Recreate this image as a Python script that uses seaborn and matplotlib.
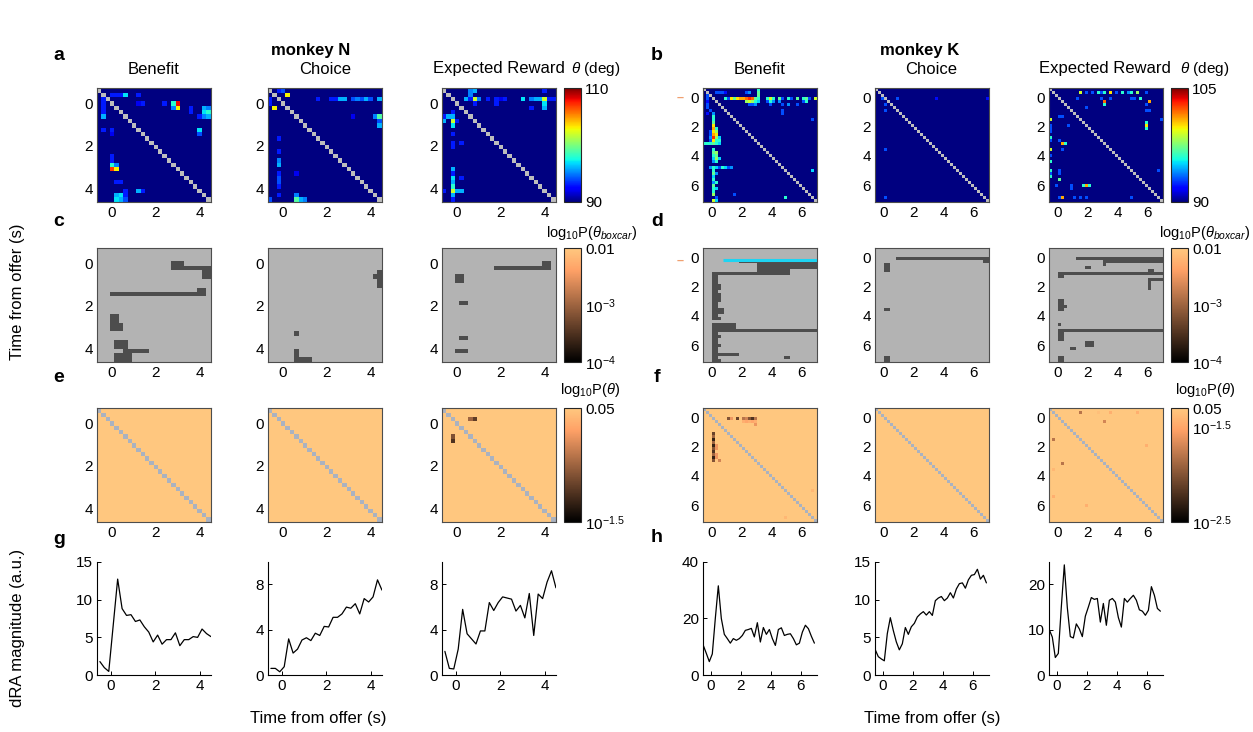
import numpy as np
import matplotlib
matplotlib.use("Agg")
import matplotlib.pyplot as plt
import seaborn as sns
from matplotlib.colors import ListedColormap, Normalize
from matplotlib.cm import ScalarMappable

sns.set_theme(style="white")
plt.rcParams['font.family'] = ['Liberation Sans', 'DejaVu Sans']
plt.rcParams['mathtext.fontset'] = 'custom'
plt.rcParams['mathtext.rm'] = 'Liberation Sans'
plt.rcParams['mathtext.it'] = 'Liberation Sans:italic'
for k in ['text.color', 'axes.labelcolor', 'xtick.color', 'ytick.color']:
    plt.rcParams[k] = 'black'

# ---------------- data ----------------
N_TIME = [-0.5, -0.3, -0.1, 0.1, 0.3, 0.5, 0.7, 0.9, 1.1, 1.3, 1.5, 1.7, 1.9,
          2.1, 2.3, 2.5, 2.7, 2.9, 3.1, 3.3, 3.5, 3.7, 3.9, 4.1, 4.3, 4.5]
K_TIME = [-0.5, -0.3, -0.1, 0.1, 0.3, 0.5, 0.7, 0.9, 1.1, 1.3, 1.5, 1.7, 1.9,
          2.1, 2.3, 2.5, 2.7, 2.9, 3.1, 3.3, 3.5, 3.7, 3.9, 4.1, 4.3, 4.5,
          4.7, 4.9, 5.1, 5.3, 5.5, 5.7, 5.9, 6.1, 6.3, 6.5, 6.7, 6.9]
VARIABLES = ['Benefit', 'Choice', 'Expected Reward']

# dRA magnitude (a.u.)
N_BENEFIT_DRA = [1.8, 1.0, 0.5, 6.6, 12.7, 8.8, 7.9, 8.0, 7.1, 7.3, 6.4, 5.7, 4.4,
                 5.3, 4.1, 4.7, 4.7, 5.6, 3.9, 4.7, 4.7, 5.1, 5.0, 6.1, 5.5, 5.1]
N_CHOICE_DRA = [0.6, 0.6, 0.3, 0.75, 3.2, 1.95, 2.3, 3.1, 3.3, 3.05, 3.7, 3.5, 4.3,
                4.25, 5.1, 5.1, 5.4, 6.0, 5.9, 6.3, 5.4, 6.75, 6.45, 6.9, 8.4, 7.5]
N_ER_DRA = [2.1, 0.6, 0.55, 2.3, 5.8, 3.65, 3.2, 2.75, 3.9, 3.9, 6.4, 5.7, 6.4,
            6.9, 6.8, 6.7, 5.65, 6.15, 5.05, 7.2, 3.5, 7.15, 6.75, 8.2, 9.2, 7.7]
K_BENEFIT_DRA = [10.5, 7.7, 4.8, 7.5, 20, 31.5, 20, 14.4, 12.9, 11.3, 12.9, 12.3, 12.9,
                 14, 15.8, 16.1, 16.5, 13.5, 18.5, 11.7, 16.8, 14.4, 16.1, 12.9, 10.5,
                 16.1, 16.7, 14, 14.4, 14.6, 12.9, 10.7, 11.3, 15.2, 17.6, 16.4, 13.7, 11.3]
K_CHOICE_DRA = [3.35, 2.45, 2.15, 1.9, 5.5, 7.6, 5.9, 4.4, 3.35, 4.15, 6.3, 5.4, 6.4,
                6.85, 7.7, 8.1, 8.4, 7.95, 8.4, 7.9, 9.85, 10.2, 10.4, 9.85, 10.2,
                10.9, 10.2, 11.4, 12.1, 12.2, 11.5, 12.6, 13.2, 13.3, 14.0, 12.7, 13.2, 12.2]
K_ER_DRA = [10.0, 8.4, 3.9, 4.8, 15, 24.3, 14.9, 8.5, 8.2, 11.3, 10.2, 8.5, 13,
            15, 17.1, 16.7, 16.9, 11.7, 15.8, 11.0, 16.5, 16.9, 16.1, 12.7, 10.6,
            16.9, 16.1, 16.9, 17.6, 16.5, 14.4, 14.1, 13.2, 14.3, 19.5, 17.6, 14.7, 14.1]

# angle maps: (row bin, column bin, theta in deg); all other bins are at 90 deg
N_BENEFIT_THETA = [
    (1, 3, 93), (1, 4, 93), (1, 5, 93), (1, 6, 97), (1, 9, 93), (3, 9, 92), (3, 10, 93),
    (3, 15, 93), (3, 17, 98), (3, 18, 108), (4, 17, 95), (4, 18, 103), (4, 21, 93),
    (5, 21, 93), (4, 24, 96), (5, 24, 97), (5, 25, 98), (4, 25, 95), (6, 23, 93),
    (6, 24, 95), (6, 25, 96), (2, 1, 93), (3, 1, 93), (4, 1, 93), (5, 1, 93), (6, 1, 96),
    (9, 1, 93), (9, 3, 93), (10, 3, 92), (9, 23, 97), (10, 23, 94), (15, 3, 93),
    (16, 3, 93), (17, 3, 98), (17, 4, 95), (18, 3, 107), (18, 4, 103), (21, 4, 93),
    (21, 5, 93), (23, 6, 93), (23, 9, 96), (23, 10, 93), (24, 4, 96), (24, 5, 97),
    (24, 6, 93), (25, 4, 97), (25, 5, 96), (25, 6, 94)]
N_CHOICE_THETA = [
    (0, 2, 93), (0, 3, 94), (1, 4, 103), (2, 0, 93), (3, 0, 93), (4, 1, 103), (2, 11, 93),
    (2, 14, 93), (2, 15, 93), (2, 16, 96), (2, 17, 96), (2, 19, 94), (2, 20, 95),
    (2, 21, 94), (2, 22, 96), (2, 23, 94), (2, 25, 96), (6, 19, 92), (6, 24, 95),
    (6, 25, 99), (7, 25, 94), (8, 25, 96), (11, 2, 93), (14, 2, 93), (16, 2, 95),
    (17, 2, 96), (19, 2, 93), (20, 2, 94), (21, 2, 94), (22, 2, 93), (24, 2, 93),
    (25, 0, 94), (19, 6, 92), (24, 6, 95), (25, 6, 99), (25, 7, 96), (25, 8, 95)]
N_ER_THETA = [
    (0, 6, 95), (0, 7, 96), (1, 6, 95), (2, 5, 96), (2, 6, 93), (2, 7, 102), (2, 8, 95),
    (2, 10, 93), (2, 12, 93), (2, 13, 92), (2, 14, 93), (2, 18, 97), (2, 20, 95),
    (2, 21, 96), (2, 22, 96), (2, 23, 102), (2, 24, 93), (2, 25, 93), (0, 23, 93),
    (3, 23, 97), (4, 23, 96), (3, 7, 93), (3, 12, 93), (4, 20, 93), (6, 0, 93), (6, 1, 96),
    (7, 0, 96), (5, 2, 93), (6, 2, 96), (7, 2, 102), (8, 2, 97), (10, 2, 93), (12, 2, 93),
    (13, 2, 93), (12, 4, 93), (7, 3, 93), (18, 2, 96), (19, 2, 93), (20, 2, 97),
    (21, 2, 96), (20, 4, 93), (22, 2, 98), (23, 2, 102), (23, 3, 96), (23, 4, 96),
    (23, 0, 93), (24, 2, 96), (25, 2, 93)]
K_BENEFIT_THETA = [
    (1, 4, 93), (1, 5, 93), (1, 6, 93), (1, 7, 92), (1, 14, 93), (1, 15, 94),
    (0, 18, 96), (1, 18, 97), (2, 18, 97), (3, 18, 96), (4, 18, 95),
    (3, 7, 96), (3, 8, 93), (3, 9, 100), (3, 10, 97), (3, 11, 100), (3, 12, 101),
    (3, 13, 101), (3, 14, 102), (3, 15, 103), (3, 16, 102), (3, 17, 97),
    (4, 14, 98), (4, 15, 99), (4, 16, 98), (4, 17, 96), (5, 15, 93), (5, 16, 93), (5, 17, 94),
    (3, 21, 96), (3, 22, 99), (3, 23, 96), (3, 25, 97), (3, 26, 93), (3, 28, 96),
    (3, 29, 93), (3, 31, 97), (3, 33, 96), (3, 34, 97), (3, 35, 93), (3, 37, 99),
    (4, 21, 93), (4, 22, 96), (4, 23, 94), (4, 25, 94), (4, 33, 93), (4, 34, 96),
    (5, 22, 93), (5, 26, 93), (5, 28, 94), (5, 31, 93), (7, 26, 93), (8, 26, 93),
    (10, 36, 93), (27, 36, 95), (36, 27, 96),
    (2, 1, 93), (3, 1, 93), (4, 1, 92), (5, 1, 93), (6, 1, 93), (7, 2, 93), (8, 1, 92),
    (8, 3, 94), (9, 3, 96), (10, 3, 96), (11, 3, 97), (12, 3, 100), (13, 3, 101),
    (14, 3, 100), (15, 3, 101), (16, 3, 103), (17, 3, 100), (18, 3, 97),
    (13, 4, 96), (14, 4, 98), (15, 4, 100), (16, 4, 98), (17, 4, 96),
    (16, 5, 95), (17, 5, 96), (18, 5, 95), (14, 2, 93), (15, 2, 93), (16, 2, 94), (17, 2, 93),
    (18, 0, 96), (18, 1, 96), (18, 2, 96), (18, 4, 96),
    (20, 3, 96), (21, 3, 97), (21, 4, 98), (22, 3, 96), (22, 4, 97), (23, 3, 95),
    (23, 4, 98), (23, 5, 95), (24, 3, 94), (24, 4, 96),
    (26, 2, 94), (26, 3, 96), (26, 4, 95), (26, 5, 93), (26, 6, 96), (26, 7, 95),
    (26, 8, 93), (26, 9, 94), (27, 3, 96), (28, 3, 97), (28, 4, 94), (29, 3, 95),
    (30, 3, 96), (31, 4, 96), (31, 3, 94), (32, 3, 97), (33, 3, 96), (33, 4, 95),
    (34, 3, 96), (35, 3, 98), (35, 10, 93), (36, 4, 93), (37, 3, 99), (37, 4, 95)]
K_CHOICE_THETA = [
    (3, 2, 93), (3, 7, 93), (3, 20, 92), (5, 3, 93), (7, 3, 93), (20, 3, 93),
    (36, 3, 93), (3, 37, 92)]
K_ER_THETA = [
    (1, 10, 99), (1, 12, 93), (1, 14, 93), (1, 16, 96), (1, 17, 93), (1, 18, 96),
    (1, 20, 100), (1, 22, 93), (1, 24, 96), (1, 26, 94), (1, 27, 96), (1, 29, 98),
    (1, 32, 93), (3, 9, 93), (3, 17, 93), (4, 18, 102), (3, 20, 93), (3, 27, 93),
    (3, 28, 93), (3, 30, 96), (4, 33, 101), (5, 18, 96), (6, 12, 93), (5, 32, 93),
    (7, 32, 93), (7, 33, 93), (11, 32, 96), (12, 32, 100), (13, 32, 96), (10, 37, 93),
    (27, 36, 93), (9, 3, 93), (9, 4, 93), (10, 0, 99), (12, 0, 93), (13, 0, 93),
    (14, 0, 93), (12, 6, 93), (16, 0, 96), (17, 0, 93), (17, 3, 93), (18, 4, 101),
    (18, 5, 96), (20, 0, 99), (20, 4, 93), (22, 0, 93), (24, 0, 96), (27, 0, 96),
    (28, 0, 93), (29, 0, 96), (27, 3, 93), (28, 3, 93), (30, 3, 97), (32, 2, 93),
    (32, 7, 93), (33, 7, 93), (32, 11, 96), (32, 12, 101), (32, 13, 96), (36, 4, 101),
    (36, 3, 93), (36, 8, 93), (36, 10, 93), (36, 12, 93), (36, 27, 93)]

# boxcar-test significant blocks: (first row, last row, first col, last col)
N_BENEFIT_BOX = [(3, 4, 17, 19), (4, 4, 17, 25), (5, 6, 24, 25), (10, 10, 3, 24),
                 (9, 10, 23, 24), (15, 17, 3, 4), (17, 18, 3, 5), (21, 22, 4, 6),
                 (23, 23, 6, 11), (24, 25, 4, 7)]
N_CHOICE_BOX = [(5, 8, 25, 25), (6, 6, 24, 24), (19, 19, 6, 6), (23, 25, 6, 6), (25, 25, 7, 9)]
N_ER_BOX = [(4, 4, 12, 24), (3, 4, 23, 24), (6, 7, 3, 4), (12, 12, 4, 5), (20, 20, 4, 5),
            (23, 23, 3, 5)]
K_BENEFIT_BOX = [(4, 4, 12, 37), (5, 6, 18, 37), (7, 8, 18, 28), (8, 8, 3, 17),
                 (9, 23, 3, 4), (12, 13, 5, 5), (15, 17, 5, 5), (20, 21, 5, 6), (23, 23, 5, 5),
                 (25, 26, 3, 10), (27, 27, 3, 37), (28, 34, 3, 4), (29, 29, 5, 5),
                 (32, 32, 5, 5), (35, 35, 3, 11), (36, 37, 3, 4), (37, 37, 5, 5), (36, 36, 27, 28)]
K_CHOICE_BOX = [(3, 3, 7, 37), (3, 4, 36, 37), (5, 7, 3, 4), (20, 20, 3, 4), (36, 37, 3, 4)]
K_ER_BOX = [(3, 3, 9, 37), (4, 4, 18, 37), (5, 5, 18, 18), (6, 6, 12, 13), (7, 7, 33, 34),
            (8, 8, 3, 37), (9, 9, 3, 4), (10, 10, 33, 37), (11, 13, 33, 33), (17, 20, 3, 4),
            (19, 19, 5, 5), (25, 25, 3, 3), (27, 27, 3, 37), (28, 30, 3, 4), (33, 33, 7, 8),
            (31, 32, 12, 14), (36, 37, 3, 4)]
K_BENEFIT_CYAN = [0.8, 7.0]   # cyan bar (time from offer, s) at 0.15 s
K_BENEFIT_CYAN_Y = 0.15

# per-bin test: (row, col, log10 p); all other bins are p >= 0.05
N_BENEFIT_P = []
N_CHOICE_P = []
N_ER_P = [(2, 6, -1.40), (2, 7, -1.44), (6, 2, -1.42), (7, 2, -1.45)]
K_BENEFIT_P = [(3, 8, -2.0), (3, 9, -1.6), (3, 11, -2.1), (3, 13, -1.8), (3, 14, -1.7),
               (3, 15, -2.0), (3, 16, -2.2), (3, 17, -1.8), (4, 13, -1.45), (4, 14, -1.5),
               (4, 15, -1.45), (4, 16, -1.5), (4, 17, -1.45), (5, 17, -1.6),
               (8, 3, -2.1), (9, 3, -1.9), (10, 3, -2.3), (11, 3, -1.9), (12, 3, -2.3),
               (13, 3, -2.0), (14, 3, -2.2), (15, 3, -1.9), (16, 3, -2.3), (17, 3, -2.0),
               (12, 4, -1.6), (13, 4, -1.6), (15, 4, -1.6), (16, 4, -1.6), (17, 5, -1.7),
               (27, 36, -1.4), (36, 27, -1.4)]
K_CHOICE_P = []
K_ER_P = [(1, 10, -1.8), (1, 16, -1.35), (1, 20, -1.45), (1, 29, -1.45), (4, 18, -1.7),
          (10, 1, -1.8), (18, 4, -1.8), (12, 32, -1.45), (20, 1, -1.4), (29, 1, -1.45),
          (32, 12, -1.45)]

# ---------------- layout (pixels) ----------------
W, H = 1253, 732
COL_X = {'N': [97, 268, 442], 'K': [703, 875, 1049]}
CBAR_X = {'N': 564, 'K': 1171}
ROW_Y = [88.3, 248.3, 408.3]
LINE_Y = 561.7
SIDE = 113.5
EXT = {'N': ((-0.65, 4.48), (-0.70, 4.63)), 'K': ((-0.56, 7.0), (-0.62, 7.14))}
TICKS = {'N': [0, 1, 2, 3, 4], 'K': [0, 1, 2, 3, 4, 5, 6]}

fig = plt.figure(figsize=(W / 100, H / 100), dpi=100)


def rect(x, y, w, h):
    return [x / W, 1 - (y + h) / H, w / W, h / H]


def ftext(x, y, s, **kw):
    fig.text(x / W, 1 - y / H, s, ha=kw.pop('ha', 'center'), va=kw.pop('va', 'center'), **kw)


def sparse_map(n, cells, base, diag=True):
    m = np.full((n, n), float(base))
    for r, c, v in cells:
        m[r, c] = v
    if diag:
        np.fill_diagonal(m, np.nan)
    return m


def box_map(n, boxes):
    m = np.zeros((n, n))
    for r0, r1, c0, c1 in boxes:
        m[r0:r1 + 1, c0:c1 + 1] = 1
    return m


def to_idx(t, ext, n):
    return (t - ext[0]) / (ext[1] - ext[0]) * n


def draw_map(ax, mat, cmap, vmin, vmax, monkey, nan_color):
    sns.heatmap(mat, ax=ax, cmap=cmap, vmin=vmin, vmax=vmax, cbar=False,
                xticklabels=False, yticklabels=False)
    ax.set_facecolor(nan_color)
    n = mat.shape[0]
    xe, ye = EXT[monkey]
    ticks = TICKS[monkey]
    labels = [str(t) if t % 2 == 0 else '' for t in ticks]
    ax.set_xticks([to_idx(t, xe, n) for t in ticks])
    ax.set_yticks([to_idx(t, ye, n) for t in ticks])
    ax.set_xticklabels(labels, rotation=0)
    ax.set_yticklabels(labels, rotation=0)
    ax.tick_params(direction='in', length=3, width=0.7, top=True, right=True,
                   labelsize=11, pad=3)
    for sp in ax.spines.values():
        sp.set_visible(True)
        sp.set_color('0.3')
        sp.set_linewidth(0.8)


def add_cbar(x, y, cmap, vmin, vmax, ticks, labels):
    cax = fig.add_axes(rect(x, y, 17, SIDE))
    cb = fig.colorbar(ScalarMappable(Normalize(vmin, vmax), cmap), cax=cax)
    cb.set_ticks(ticks)
    cb.set_ticklabels(labels)
    cax.tick_params(length=0, labelsize=11, pad=3)
    cb.outline.set_linewidth(0.8)


gray2 = ListedColormap(['#b3b3b3', '#4d4d4d'])
p_top = np.log10(0.05)

maps = {
    'N': dict(n=26, theta=[N_BENEFIT_THETA, N_CHOICE_THETA, N_ER_THETA],
              box=[N_BENEFIT_BOX, N_CHOICE_BOX, N_ER_BOX],
              p=[N_BENEFIT_P, N_CHOICE_P, N_ER_P],
              dra=[N_BENEFIT_DRA, N_CHOICE_DRA, N_ER_DRA], time=N_TIME,
              tmax=110, pmin=-1.5, xlim=(-0.63, 4.48),
              ylims=[(0, 15), (0, 10), (0, 10)],
              yticks=[[0, 5, 10, 15], [0, 4, 8], [0, 4, 8]], xticks=[0, 2, 4]),
    'K': dict(n=38, theta=[K_BENEFIT_THETA, K_CHOICE_THETA, K_ER_THETA],
              box=[K_BENEFIT_BOX, K_CHOICE_BOX, K_ER_BOX],
              p=[K_BENEFIT_P, K_CHOICE_P, K_ER_P],
              dra=[K_BENEFIT_DRA, K_CHOICE_DRA, K_ER_DRA], time=K_TIME,
              tmax=105, pmin=-2.5, xlim=(-0.52, 7.04),
              ylims=[(0, 40), (0, 15), (0, 25)],
              yticks=[[0, 20, 40], [0, 5, 10, 15], [0, 10, 20]], xticks=[0, 2, 4, 6]),
}

for monkey, d in maps.items():
    n = d['n']
    for j in range(3):
        x = COL_X[monkey][j]
        # angle map
        ax = fig.add_axes(rect(x, ROW_Y[0], SIDE, SIDE))
        draw_map(ax, sparse_map(n, d['theta'][j], 90), 'jet', 90, d['tmax'], monkey, '#bdbdbd')
        # boxcar significance
        ax = fig.add_axes(rect(x, ROW_Y[1], SIDE, SIDE))
        draw_map(ax, box_map(n, d['box'][j]), gray2, 0, 1, monkey, '#b3b3b3')
        if monkey == 'K' and j == 0:
            xe, ye = EXT['K']
            ax.plot([to_idx(t, xe, n) for t in K_BENEFIT_CYAN],
                    [to_idx(K_BENEFIT_CYAN_Y, ye, n)] * 2, color='#1ed4f2', lw=2.2,
                    solid_capstyle='butt')
        # per-bin significance
        ax = fig.add_axes(rect(x, ROW_Y[2], SIDE, SIDE))
        draw_map(ax, sparse_map(n, d['p'][j], p_top), 'copper', d['pmin'], p_top,
                 monkey, '#aab2c0')
        # dRA magnitude
        ax = fig.add_axes(rect(x, LINE_Y, SIDE, SIDE))
        sns.lineplot(x=d['time'], y=d['dra'][j], ax=ax, color='black', linewidth=0.9)
        ax.set_xlim(d['xlim'])
        ax.set_ylim(d['ylims'][j])
        ax.set_xticks(d['xticks'])
        ax.set_yticks(d['yticks'][j])
        sns.despine(ax=ax)
        for sp in ['left', 'bottom']:
            ax.spines[sp].set_color('black')
            ax.spines[sp].set_linewidth(0.8)
        ax.tick_params(direction='in', length=3, width=0.7, labelsize=11, pad=3,
                       left=True, bottom=True)

    cx = CBAR_X[monkey]
    add_cbar(cx, ROW_Y[0], 'jet', 90, d['tmax'], [90, d['tmax']], ['90', str(d['tmax'])])
    add_cbar(cx, ROW_Y[1], 'copper', -4, -2, [-4, -3, -2],
             ['$10^{-4}$', '$10^{-3}$', '0.01'])
    if monkey == 'N':
        add_cbar(cx, ROW_Y[2], 'copper', -1.5, p_top, [-1.5, p_top], ['$10^{-1.5}$', '0.05'])
    else:
        add_cbar(cx, ROW_Y[2], 'copper', -2.5, p_top, [-2.5, -1.5, p_top],
                 ['$10^{-2.5}$', '$10^{-1.5}$', '0.05'])

# ---------------- text ----------------
title_x = {'N': [153.5, 325, 499], 'K': [760, 931, 1105]}
for monkey in ['N', 'K']:
    for j, name in enumerate(VARIABLES):
        ftext(title_x[monkey][j], 69, name, fontsize=12)
ftext(596, 69, r'$\theta$ (deg)', fontsize=11)
ftext(1205, 69, r'$\theta$ (deg)', fontsize=11)
ftext(592, 233, r'log$_{10}$P($\theta_{boxcar}$)', fontsize=10.5)
ftext(1205, 233, r'log$_{10}$P($\theta_{boxcar}$)', fontsize=10.5)
ftext(590, 390, r'log$_{10}$P($\theta$)', fontsize=10.5)
ftext(1205, 390, r'log$_{10}$P($\theta$)', fontsize=10.5)

ftext(311, 50, 'monkey N', fontsize=12, fontweight='bold')
ftext(920, 50, 'monkey K', fontsize=12, fontweight='bold')
for s, x, y in [('a', 59, 56), ('b', 657, 56), ('c', 59, 222), ('d', 657, 222),
                ('e', 59, 378), ('f', 657, 378), ('g', 59, 539), ('h', 657, 538)]:
    ftext(x, y, s, fontsize=14, fontweight='bold')

ftext(18, 292, 'Time from offer (s)', fontsize=12, rotation=90)
ftext(18, 628, 'dRA magnitude (a.u.)', fontsize=12, rotation=90)
ftext(318, 718, 'Time from offer (s)', fontsize=12)
ftext(932, 718, 'Time from offer (s)', fontsize=12)
# small orange marks left of panels b and d
for y in [98, 261]:
    ftext(680, y, '\u2013', fontsize=9, color='#f0a070', fontweight='bold')

fig.savefig('out.png', dpi=100)
